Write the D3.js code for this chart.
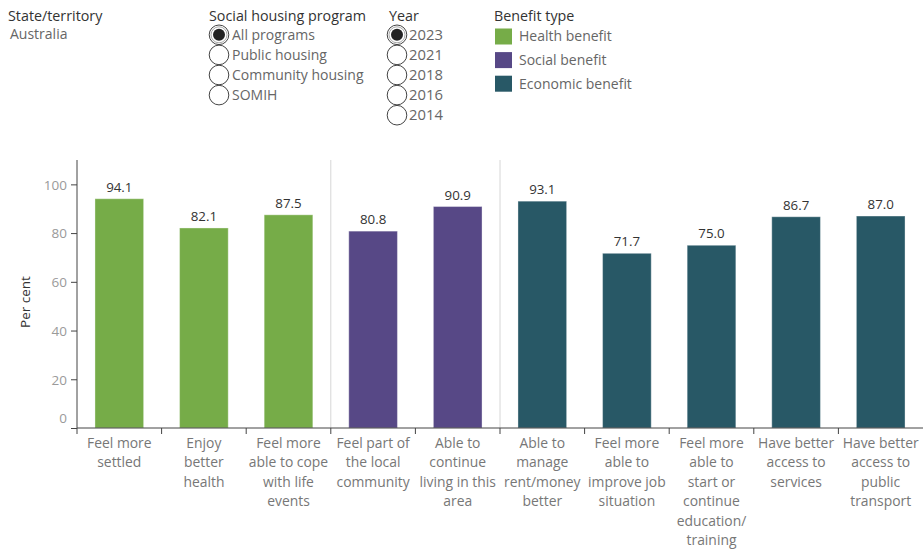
<!DOCTYPE html>
<html>
<head>
<meta charset="utf-8">
<script src="https://cdn.jsdelivr.net/npm/d3@7"></script>
<style>
  html, body { margin: 0; padding: 0; background: #fff; }
  svg { display: block; font-family: "Open Sans", "Noto Sans", sans-serif; }
</style>
</head>
<body>
<svg id="chart" width="923" height="550"></svg>
<script>
// Benefits of living in social housing, by benefit type
const categories = [
  "Feel more settled",
  "Enjoy better health",
  "Feel more able to cope with life events",
  "Feel part of the local community",
  "Able to continue living in this area",
  "Able to manage rent/money better",
  "Feel more able to improve job situation",
  "Feel more able to start or continue education/training",
  "Have better access to services",
  "Have better access to public transport"
];
const categoryLines = [
  ["Feel more", "settled"],
  ["Enjoy", "better", "health"],
  ["Feel more", "able to cope", "with life", "events"],
  ["Feel part of", "the local", "community"],
  ["Able to", "continue", "living in this", "area"],
  ["Able to", "manage", "rent/money", "better"],
  ["Feel more", "able to", "improve job", "situation"],
  ["Feel more", "able to", "start or", "continue", "education/", "training"],
  ["Have better", "access to", "services"],
  ["Have better", "access to", "public", "transport"]
];
const values = [94.1, 82.1, 87.5, 80.8, 90.9, 93.1, 71.7, 75.0, 86.7, 87.0];
const benefitOf = [
  "Health benefit", "Health benefit", "Health benefit",
  "Social benefit", "Social benefit",
  "Economic benefit", "Economic benefit", "Economic benefit", "Economic benefit", "Economic benefit"
];
const benefitTypes = ["Health benefit", "Social benefit", "Economic benefit"];
const benefitColors = ["#76ac48", "#574886", "#285866"];
const yTicks = [0, 20, 40, 60, 80, 100];
const programs = ["All programs", "Public housing", "Community housing", "SOMIH"];
const years = ["2023", "2021", "2018", "2016", "2014"];

const svg = d3.select("#chart");
const color = d3.scaleOrdinal().domain(benefitTypes).range(benefitColors);

const plotLeft = 77, plotRight = 923, plotTop = 160, plotBottom = 428;

const x = d3.scaleBand().domain(categories).range([plotLeft, plotRight]).padding(0);
const xBar = d3.scaleBand().domain(categories).range([plotLeft, plotRight])
  .paddingInner(0.425).paddingOuter(0.2125);
const y = d3.scaleLinear().domain([0, 110]).range([plotBottom, plotTop]);

// --- Filter / legend panel ---
const textDark = "#333333", textGrey = "#666666";
const titleSize = 14.3, itemSize = 14;

svg.append("text").attr("x", 8).attr("y", 16).attr("dy", "0.35em")
  .attr("font-size", titleSize).attr("fill", textDark).text("State/territory");
svg.append("text").attr("x", 10).attr("y", 34.5).attr("dy", "0.35em")
  .attr("font-size", itemSize).attr("fill", textGrey).text("Australia");

function radioGroup(title, items, cx, labelX, titleX, labelSize) {
  const g = svg.append("g");
  g.append("text").attr("x", titleX).attr("y", 16).attr("dy", "0.35em")
    .attr("font-size", titleSize).attr("fill", textDark).text(title);
  const rows = g.selectAll("g.row").data(items).join("g").attr("class", "row")
    .attr("transform", (d, i) => `translate(0, ${34.8 + i * 20.1})`);
  rows.append("circle").attr("cx", cx).attr("cy", 0).attr("r", 9.8)
    .attr("fill", "#fff").attr("stroke", "#444").attr("stroke-width", 1);
  const sel = rows.filter((d, i) => i === 0);
  sel.append("circle").attr("cx", cx).attr("cy", 0).attr("r", 8)
    .attr("fill", "none").attr("stroke", "#aaa").attr("stroke-width", 1);
  sel.append("circle").attr("cx", cx).attr("cy", 0).attr("r", 6)
    .attr("fill", "#222");
  rows.append("text").attr("x", labelX).attr("y", 0).attr("dy", "0.35em")
    .attr("font-size", labelSize).attr("fill", textGrey).text(d => d);
}
radioGroup("Social housing program", programs, 219, 232, 209, itemSize);
radioGroup("Year", years, 397, 409, 389, 14.8);

const legend = svg.append("g");
legend.append("text").attr("x", 494).attr("y", 16).attr("dy", "0.35em")
  .attr("font-size", titleSize).attr("fill", textDark).text("Benefit type");
const lrows = legend.selectAll("g.item").data(benefitTypes).join("g").attr("class", "item")
  .attr("transform", (d, i) => `translate(495, ${28.5 + i * 23.6})`);
lrows.append("rect").attr("width", 17).attr("height", 16).attr("fill", d => color(d));
lrows.append("text").attr("x", 24).attr("y", 8).attr("dy", "0.35em")
  .attr("font-size", itemSize).attr("fill", textGrey).text(d => d);

// --- Chart ---
// Separators between benefit groups
const groupBreaks = categories.filter((c, i) => i > 0 && benefitOf[i] !== benefitOf[i - 1]);
svg.append("g").selectAll("line").data(groupBreaks).join("line")
  .attr("x1", d => x(d)).attr("x2", d => x(d))
  .attr("y1", plotTop).attr("y2", plotBottom)
  .attr("stroke", "#d6d6d6").attr("stroke-width", 1);

// Bars
svg.append("g").selectAll("rect").data(categories).join("rect")
  .attr("x", d => xBar(d))
  .attr("width", xBar.bandwidth())
  .attr("y", (d, i) => y(values[i]))
  .attr("height", (d, i) => y(0) - y(values[i]))
  .attr("fill", (d, i) => color(benefitOf[i]))
  .attr("stroke", "#ffffff").attr("stroke-opacity", 0.35).attr("stroke-width", 1);

// Value labels
svg.append("g").selectAll("text").data(categories).join("text")
  .attr("x", d => xBar(d) + xBar.bandwidth() / 2)
  .attr("y", (d, i) => y(values[i]) - 11.5)
  .attr("dy", "0.35em")
  .attr("text-anchor", "middle")
  .attr("font-size", 13.3).attr("fill", textDark)
  .text((d, i) => values[i].toFixed(1));

// Y axis
const yAxis = svg.append("g").attr("transform", `translate(${plotLeft},0)`)
  .call(d3.axisLeft(y).tickValues(yTicks).tickSize(6).tickPadding(4));
yAxis.select(".domain").attr("stroke", "#444").attr("d", `M0,${plotTop}V${plotBottom}`);
yAxis.selectAll(".tick line").attr("stroke", "#444");
yAxis.selectAll(".tick text")
  .attr("font-family", "'Open Sans', 'Noto Sans', sans-serif")
  .attr("font-size", 13.5).attr("fill", "#9a9a9a")
  .attr("dy", d => d === 0 ? "-0.42em" : "0.35em");

svg.append("text")
  .attr("transform", `translate(25, ${(plotTop + plotBottom) / 2 + 8}) rotate(-90)`)
  .attr("dy", "0.35em")
  .attr("text-anchor", "middle").attr("font-size", 13.5).attr("fill", textDark)
  .text("Per cent");

// X axis with ticks at band boundaries
svg.append("line").attr("x1", plotLeft).attr("x2", plotRight)
  .attr("y1", plotBottom).attr("y2", plotBottom).attr("stroke", "#444");
svg.append("g").selectAll("line").data(categories).join("line")
  .attr("x1", d => x(d)).attr("x2", d => x(d))
  .attr("y1", plotBottom).attr("y2", plotBottom + 6)
  .attr("stroke", "#444");

// Category labels
const labels = svg.append("g").selectAll("text").data(categories).join("text")
  .attr("x", d => x(d) + x.bandwidth() / 2)
  .attr("y", plotBottom + 15)
  .attr("text-anchor", "middle")
  .attr("font-size", 13.9).attr("fill", "#777");
labels.each(function(d, i) {
  d3.select(this).selectAll("tspan").data(categoryLines[i]).join("tspan")
    .attr("x", x(d) + x.bandwidth() / 2)
    .attr("dy", (t, j) => j === 0 ? "0.35em" : "19.5px")
    .text(t => t);
});
</script>
</body>
</html>
